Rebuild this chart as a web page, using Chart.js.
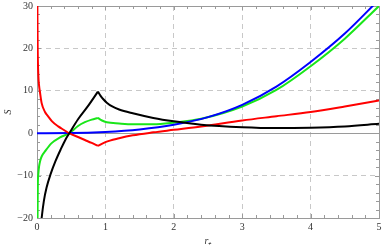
<!DOCTYPE html>
<html>
<head>
<meta charset="utf-8">
<script src="https://cdn.jsdelivr.net/npm/chart.js@4.4.1/dist/chart.umd.min.js"></script>
<style>
    html, body { margin: 0; padding: 0; background: #ffffff; }
    #chart { display: block; }
</style>
</head>
<body>
<canvas id="chart" width="382" height="250"></canvas>
<script>
// ========================================================================
// 데이터
// ========================================================================
const xTicks = [0, 1, 2, 3, 4, 5];
const yTicks = [-20, -10, 0, 10, 20, 30];

// 빨강: 왼쪽 가지 (r <= 0.89), 오른쪽 가지 (r >= 0.89)
const redLeftR  = [0.004, 0.007, 0.01, 0.02, 0.03, 0.044, 0.068, 0.117, 0.166, 0.22, 0.31, 0.4, 0.47, 0.6, 0.7, 0.8, 0.89];
const redLeftS  = [36, 26, 20, 13.5, 11.3, 9.6, 7.1, 5.0, 3.9, 2.8, 1.6, 0.7, 0, -0.9, -1.6, -2.3, -3.0];
const redRightR = [0.89, 1.0, 1.2, 1.4, 1.7, 2.0, 2.4, 3.0, 3.5, 4.0, 4.5, 5.0];
const redRightS = [-3.0, -2.1, -1.2, -0.5, 0.2, 0.8, 1.6, 3.0, 4.0, 5.0, 6.3, 7.7];

// 초록
const greenLeftR  = [0.004, 0.008, 0.012, 0.02, 0.03, 0.045, 0.068, 0.13, 0.21, 0.336, 0.473, 0.6, 0.7, 0.8, 0.89];
const greenLeftS  = [-30, -20, -12, -9.5, -7.9, -6.6, -5.5, -4.0, -2.4, -1.0, 0, 1.7, 2.6, 3.2, 3.6];
const greenRightR = [0.89, 0.95, 1.02, 1.2, 1.4, 1.7, 2.0, 2.4, 3.0, 3.5, 4.0, 4.5, 5.0];
const greenRightS = [3.6, 3.0, 2.6, 2.3, 2.1, 2.1, 2.5, 3.4, 6.3, 10.2, 15.8, 22.3, 30];

// 파랑
const blueR = [0, 0.5, 1.0, 1.5, 2.0, 2.5, 3.0, 3.5, 4.0, 4.5, 5.0];
const blueS = [0, 0.03, 0.3, 0.9, 2.0, 3.8, 6.7, 11.0, 16.8, 23.5, 31.5];

// 검정
const blackLeftR  = [0.05, 0.068, 0.1, 0.14, 0.2, 0.27, 0.35, 0.41, 0.473, 0.6, 0.75, 0.89];
const blackLeftS  = [-23, -20, -16, -12.8, -9.6, -6.6, -3.7, -1.7, 0, 3.3, 6.5, 9.8];
const blackRightR = [0.89, 0.93, 0.97, 1.02, 1.1, 1.2, 1.4, 1.7, 2.0, 2.4, 3.0, 3.5, 4.0, 4.5, 5.0];
const blackRightS = [9.8, 8.8, 8.0, 7.2, 6.3, 5.6, 4.7, 3.6, 2.8, 2.0, 1.4, 1.2, 1.3, 1.6, 2.2];

// ========================================================================
// 유틸리티
// ========================================================================
function toPoints(rs, ss) {
    return rs.map((r, i) => ({ x: r, y: ss[i] }));
}

function curve(rs, ss, color, order) {
    return {
        data: toPoints(rs, ss),
        borderColor: color,
        borderWidth: 2,
        pointRadius: 0,
        fill: false,
        cubicInterpolationMode: 'monotone',
        order: order
    };
}

// 프레임, 0선, 안쪽 눈금
const framePlugin = {
    id: 'frame',
    beforeDatasetsDraw(chart) {
        const { ctx, chartArea: a, scales: { x, y } } = chart;
        ctx.save();
        ctx.strokeStyle = '#9a9a9a';
        ctx.lineWidth = 1;

        // 0선
        const y0 = Math.round(y.getPixelForValue(0)) + 0.5;
        ctx.beginPath();
        ctx.moveTo(a.left, y0);
        ctx.lineTo(a.right, y0);
        ctx.stroke();

        // 작은 눈금
        ctx.beginPath();
        for (let v = 0; v <= 5.0001; v += 0.2) {
            const px = Math.round(x.getPixelForValue(v)) + 0.5;
            const len = Math.abs(v - Math.round(v)) < 1e-6 ? 4 : 3;
            ctx.moveTo(px, a.bottom); ctx.lineTo(px, a.bottom - len);
            ctx.moveTo(px, a.top); ctx.lineTo(px, a.top + len);
        }
        for (let v = -20; v <= 30; v += 2) {
            const py = Math.round(y.getPixelForValue(v)) + 0.5;
            const len = v % 10 === 0 ? 4 : 3;
            ctx.moveTo(a.left, py); ctx.lineTo(a.left + len, py);
            ctx.moveTo(a.right, py); ctx.lineTo(a.right - len, py);
        }
        ctx.stroke();

        ctx.strokeRect(Math.round(a.left) + 0.5, Math.round(a.top) + 0.5,
                       Math.round(a.right - a.left), Math.round(a.bottom - a.top));
        ctx.restore();
    }
};

const gridColor = (ctx) => {
    const v = ctx.tick ? ctx.tick.value : null;
    const sc = ctx.scale;
    if (v === sc.min || v === sc.max || v === 0) return 'rgba(0,0,0,0)';
    return '#c8c8c8';
};

// ========================================================================
// 차트
// ========================================================================
new Chart(document.getElementById('chart'), {
    type: 'line',
    data: {
        datasets: [
            curve(blackLeftR, blackLeftS, '#000000', 0),
            curve(blackRightR, blackRightS, '#000000', 0),
            curve(redLeftR, redLeftS, '#ff0000', 1),
            curve(redRightR, redRightS, '#ff0000', 1),
            curve(blueR, blueS, '#0000ff', 2),
            curve(greenLeftR, greenLeftS, '#19e619', 3),
            curve(greenRightR, greenRightS, '#19e619', 3)
        ]
    },
    options: {
        responsive: false,
        animation: false,
        layout: { padding: { top: 6, right: 3, left: 0, bottom: 0 } },
        plugins: {
            legend: { display: false },
            tooltip: { enabled: false }
        },
        scales: {
            x: {
                type: 'linear',
                min: 0,
                max: 5,
                afterBuildTicks: (s) => { s.ticks = xTicks.map(v => ({ value: v })); },
                afterFit: (s) => { s.height = 32; s.paddingLeft = 0; s.paddingRight = 0; },
                grid: { color: gridColor, drawTicks: false },
                border: { display: false, dash: [5, 4] },
                ticks: {
                    padding: 3,
                    color: '#333333',
                    font: { family: 'Liberation Serif', size: 10 }
                },
                title: {
                    display: true,
                    text: 'r\u208A',
                    color: '#333333',
                    padding: { top: 0, bottom: 3 },
                    font: { family: 'Liberation Serif', size: 10, style: 'italic' }
                }
            },
            y: {
                type: 'linear',
                min: -20,
                max: 30,
                afterBuildTicks: (s) => { s.ticks = yTicks.map(v => ({ value: v })); },
                afterFit: (s) => { s.width = 37; s.paddingTop = 0; s.paddingBottom = 0; },
                grid: { color: gridColor, drawTicks: false },
                border: { display: false, dash: [5, 4] },
                ticks: {
                    padding: 4,
                    color: '#333333',
                    font: { family: 'Liberation Serif', size: 10 },
                    callback: (v) => (v < 0 ? '\u2212' + Math.abs(v) : String(v))
                },
                title: {
                    display: true,
                    text: 'S',
                    color: '#333333',
                    padding: { top: 2, bottom: 0 },
                    font: { family: 'Liberation Serif', size: 10, style: 'italic' }
                }
            }
        }
    },
    plugins: [framePlugin]
});
</script>
</body>
</html>
